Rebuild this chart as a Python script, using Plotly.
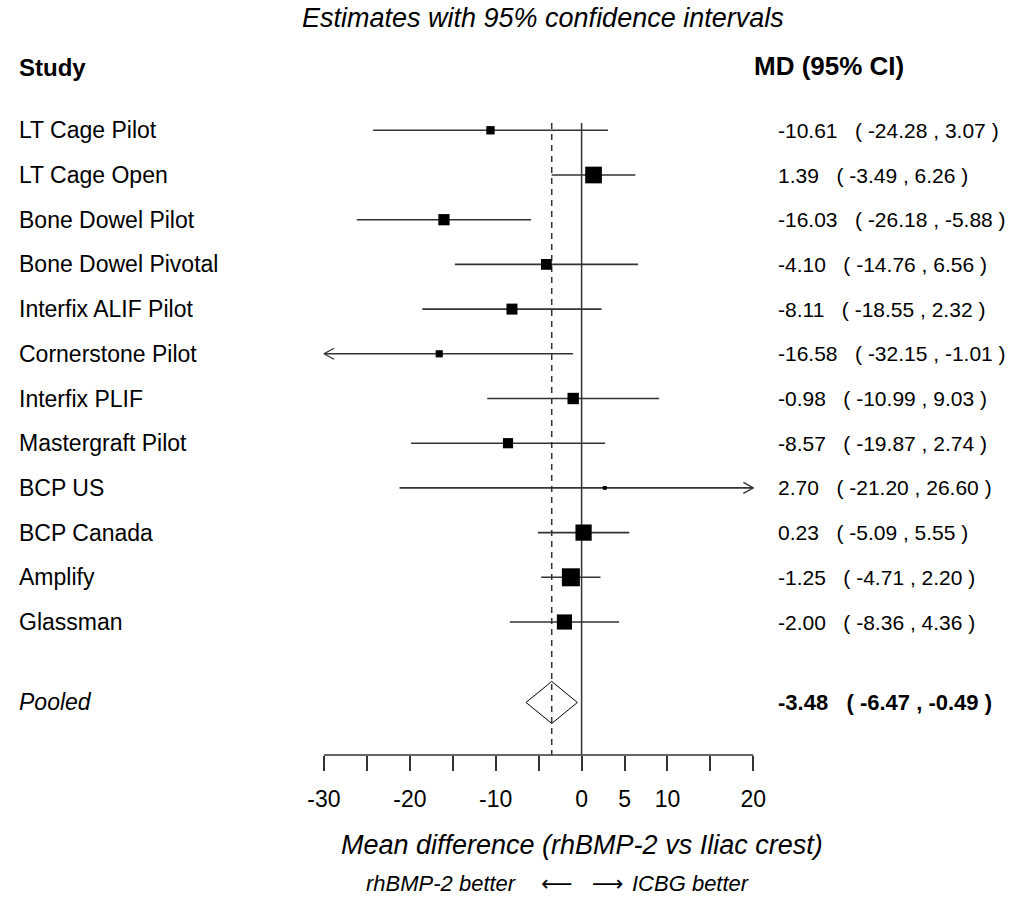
import plotly.graph_objects as go

# ---- data -------------------------------------------------------------
studies = ["LT Cage Pilot", "LT Cage Open", "Bone Dowel Pilot", "Bone Dowel Pivotal",
           "Interfix ALIF Pilot", "Cornerstone Pilot", "Interfix PLIF", "Mastergraft Pilot",
           "BCP US", "BCP Canada", "Amplify", "Glassman"]
md = [-10.61, 1.39, -16.03, -4.10, -8.11, -16.58, -0.98, -8.57, 2.70, 0.23, -1.25, -2.00]
ci_low = [-24.28, -3.49, -26.18, -14.76, -18.55, -32.15, -10.99, -19.87, -21.20, -5.09, -4.71, -8.36]
ci_high = [3.07, 6.26, -5.88, 6.56, 2.32, -1.01, 9.03, 2.74, 26.60, 5.55, 2.20, 4.36]

pooled_label = "Pooled"
pooled_md = -3.48
pooled_low = -6.47
pooled_high = -0.49

tick_values = [-30, -25, -20, -15, -10, -5, 0, 5, 10, 15, 20]
tick_labels = ["-30", "", "-20", "", "-10", "", "0", "5", "10", "", "20"]

# ---- layout constants -------------------------------------------------
W, H = 1015, 910
ROW0_PX, ROW_PX = 130.3, 44.7          # first study row and row spacing (px)
X0_PX, X_UNIT_PX = 581.6, 8.587        # pixel of 0 and pixels per unit
X_MIN, X_MAX = tick_values[0], tick_values[-1]
POOLED_ROW = 12.8
AXIS_ROW = (755 - ROW0_PX) / ROW_PX
TOP_ROW = (123 - ROW0_PX) / ROW_PX
TAU2 = 36.4                            # between-study variance for box weights
MAX_BOX_PX = 18

FONT = "Liberation Sans, Arial, DejaVu Sans, sans-serif"
ARROW_FONT = "DejaVu Sans, Liberation Sans, sans-serif"
LINE_COL = "#333333"

x_range = [-X0_PX / X_UNIT_PX, (W - X0_PX) / X_UNIT_PX]
y_range = [(H - ROW0_PX) / ROW_PX, -ROW0_PX / ROW_PX]


def px_to_paper_x(px):
    return px / W


def px_to_paper_y(px):
    return 1 - px / H


rows = list(range(len(studies)))

# box side proportional to random-effects weight
weights = [1.0 / (((h - l) / 3.92) ** 2 + TAU2) for l, h in zip(ci_low, ci_high)]
box_sizes = [MAX_BOX_PX * w / max(weights) for w in weights]

fig = go.Figure()

# reference lines: no effect (solid) and pooled estimate (dashed)
fig.add_trace(go.Scatter(x=[0, 0], y=[TOP_ROW, AXIS_ROW], mode="lines",
                         line=dict(color=LINE_COL, width=1.5), hoverinfo="skip"))
fig.add_trace(go.Scatter(x=[pooled_md, pooled_md], y=[TOP_ROW, AXIS_ROW], mode="lines",
                         line=dict(color=LINE_COL, width=1.5, dash="6px,5px"), hoverinfo="skip"))

# confidence interval whiskers, truncated at the axis limits with arrowheads
ci_x, ci_y = [], []
head_x, head_y = [], []
HEAD_DX = 10 / X_UNIT_PX
HEAD_DY = 5.5 / ROW_PX
for r, lo, hi in zip(rows, ci_low, ci_high):
    a, b = max(lo, X_MIN), min(hi, X_MAX)
    ci_x += [a, b, None]
    ci_y += [r, r, None]
    if lo < X_MIN:
        head_x += [a + HEAD_DX, a, a + HEAD_DX, None]
        head_y += [r - HEAD_DY, r, r + HEAD_DY, None]
    if hi > X_MAX:
        head_x += [b - HEAD_DX, b, b - HEAD_DX, None]
        head_y += [r - HEAD_DY, r, r + HEAD_DY, None]

fig.add_trace(go.Scatter(x=ci_x, y=ci_y, mode="lines",
                         line=dict(color=LINE_COL, width=1.6), hoverinfo="skip"))
fig.add_trace(go.Scatter(x=head_x, y=head_y, mode="lines",
                         line=dict(color=LINE_COL, width=1.3), hoverinfo="skip"))

# study estimates as weighted squares
fig.add_trace(go.Scatter(x=md, y=rows, mode="markers",
                         marker=dict(symbol="square", size=box_sizes, color="#000000",
                                     opacity=1, line=dict(width=0)),
                         hoverinfo="skip"))

# pooled diamond
DIAMOND_HALF = 21 / ROW_PX
fig.add_trace(go.Scatter(
    x=[pooled_low, pooled_md, pooled_high, pooled_md, pooled_low],
    y=[POOLED_ROW, POOLED_ROW - DIAMOND_HALF, POOLED_ROW, POOLED_ROW + DIAMOND_HALF, POOLED_ROW],
    mode="lines", line=dict(color="black", width=1), hoverinfo="skip"))

# x-axis baseline spanning the tick range
fig.add_shape(type="line", x0=X_MIN, x1=X_MAX, y0=AXIS_ROW, y1=AXIS_ROW,
              xref="x", yref="y", line=dict(color=LINE_COL, width=1.5))

ann = []
TXT = dict(family=FONT, size=23, color="black")
VAL = dict(family=FONT, size=21, color="black")
NB = "\u00a0"


def fmt_row(est, lo, hi):
    return f"{est:.2f}{NB*3}({NB}{lo:.2f}{NB},{NB}{hi:.2f}{NB})"


for r, name, est, lo, hi in zip(rows, studies, md, ci_low, ci_high):
    ann.append(dict(x=px_to_paper_x(17), xref="paper", y=r, yref="y", text=name,
                    xanchor="left", yanchor="middle", showarrow=False, font=TXT))
    ann.append(dict(x=px_to_paper_x(776), xref="paper", y=r, yref="y",
                    text=fmt_row(est, lo, hi),
                    xanchor="left", yanchor="middle", showarrow=False, font=VAL))

ann.append(dict(x=px_to_paper_x(17), xref="paper", y=POOLED_ROW, yref="y",
                text=f"<i>{pooled_label}</i>", xanchor="left", yanchor="middle",
                showarrow=False, font=TXT))
ann.append(dict(x=px_to_paper_x(776), xref="paper", y=POOLED_ROW, yref="y",
                text=f"<b>{fmt_row(pooled_md, pooled_low, pooled_high)}</b>",
                xanchor="left", yanchor="middle", showarrow=False,
                font=dict(family=FONT, size=22, color="black")))

# column headers
ann.append(dict(x=px_to_paper_x(17), xref="paper", y=px_to_paper_y(68), yref="paper",
                text="<b>Study</b>", xanchor="left", yanchor="middle", showarrow=False,
                font=dict(family=FONT, size=24, color="black")))
ann.append(dict(x=px_to_paper_x(752), xref="paper", y=px_to_paper_y(66), yref="paper",
                text="<b>MD (95% CI)</b>", xanchor="left", yanchor="middle", showarrow=False,
                font=dict(family=FONT, size=26, color="black")))

# title and axis captions
ann.append(dict(x=px_to_paper_x(543), xref="paper", y=px_to_paper_y(18), yref="paper",
                text="<i>Estimates with 95% confidence intervals</i>", xanchor="center",
                yanchor="middle", showarrow=False, font=dict(family=FONT, size=27, color="black")))
ann.append(dict(x=0, xref="x", y=px_to_paper_y(845), yref="paper",
                text="<i>Mean difference (rhBMP-2 vs Iliac crest)</i>", xanchor="center",
                yanchor="middle", showarrow=False, font=dict(family=FONT, size=27, color="black")))

# direction hint under the axis title
HINT_Y = px_to_paper_y(883)
HINT_FONT = dict(family=FONT, size=22, color="black")
ann.append(dict(x=0, xref="x", y=HINT_Y, yref="paper", text="<i>rhBMP-2 better</i>",
                xanchor="right", yanchor="middle", xshift=-63, showarrow=False, font=HINT_FONT))
ann.append(dict(x=0, xref="x", y=HINT_Y, yref="paper", text="\u27f5",
                xanchor="center", yanchor="middle", xshift=-25, showarrow=False,
                font=dict(family=ARROW_FONT, size=22, color="black")))
ann.append(dict(x=0, xref="x", y=HINT_Y, yref="paper", text="\u27f6",
                xanchor="center", yanchor="middle", xshift=26, showarrow=False,
                font=dict(family=ARROW_FONT, size=22, color="black")))
ann.append(dict(x=0, xref="x", y=HINT_Y, yref="paper", text="<i>ICBG better</i>",
                xanchor="left", yanchor="middle", xshift=48, showarrow=False, font=HINT_FONT))

fig.update_layout(
    width=W, height=H, autosize=False,
    margin=dict(l=0, r=0, t=0, b=0),
    paper_bgcolor="white", plot_bgcolor="white",
    showlegend=False,
    annotations=ann,
    xaxis=dict(range=x_range, domain=[0, 1], showgrid=False, zeroline=False,
               showline=False, anchor="free", position=px_to_paper_y(755),
               tickmode="array", tickvals=tick_values, ticktext=tick_labels,
               ticks="outside", ticklen=15, tickwidth=1.5, tickcolor=LINE_COL,
               ticklabelstandoff=8,
               tickfont=dict(family=FONT, size=23, color="black"),
               automargin=False, fixedrange=True),
    yaxis=dict(range=y_range, domain=[0, 1], visible=False, automargin=False,
               fixedrange=True),
)

fig.write_html("out.html")
